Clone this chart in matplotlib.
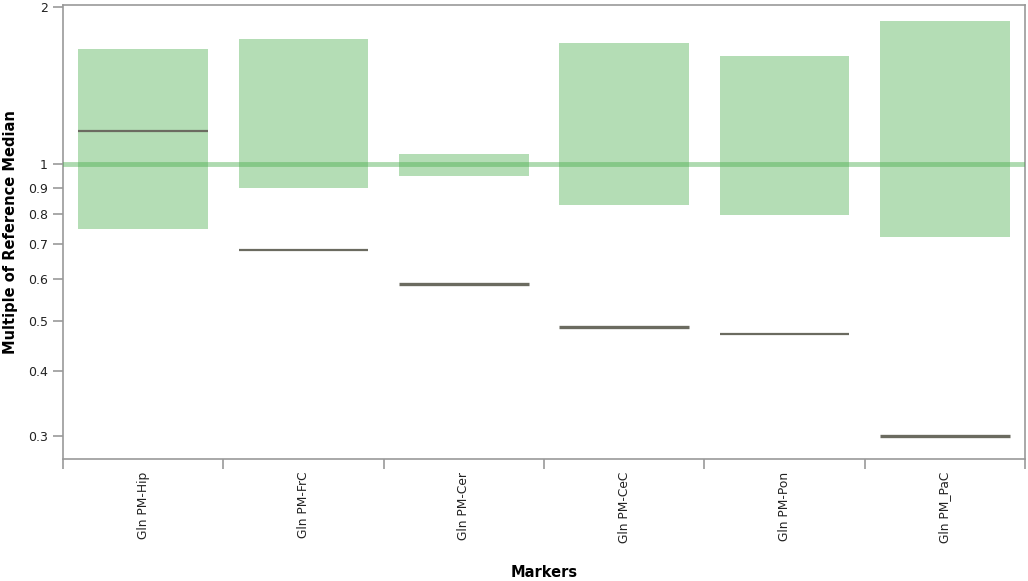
import matplotlib
matplotlib.use("Agg")
import matplotlib.pyplot as plt
from matplotlib.ticker import FixedLocator, NullLocator

markers = ["Gln PM-Hip", "Gln PM-FrC", "Gln PM-Cer", "Gln PM-CeC", "Gln PM-Pon", "Gln PM_PaC"]
range_low = [0.75, 0.90, 0.947, 0.835, 0.797, 0.723]
range_high = [1.66, 1.74, 1.043, 1.71, 1.61, 1.88]
values = [1.155, 0.684, 0.588, 0.486, 0.471, 0.30]
line_widths = [1.6, 1.6, 2.4, 2.4, 1.6, 2.4]
y_ticks = [0.3, 0.4, 0.5, 0.6, 0.7, 0.8, 0.9, 1, 2]
y_tick_labels = ["0.3", "0.4", "0.5", "0.6", "0.7", "0.8", "0.9", "1", "2"]

plt.rcParams['font.family'] = ['DejaVu Sans']

fig = plt.figure(figsize=(10.28, 5.81), dpi=100)
ax = fig.add_axes([63/1028, 1 - 459/581, 962/1028, 454/581])

xs = list(range(len(markers)))
bar_w = 0.81
ax.bar(xs, [h - l for h, l in zip(range_high, range_low)], bottom=range_low,
       width=bar_w, color="#4caf50", alpha=0.42, linewidth=0, zorder=2)

ax.axhline(1.0, color="#4caf50", alpha=0.45, linewidth=3.5, zorder=3)

for x, v, lw in zip(xs, values, line_widths):
    ax.hlines(v, x - bar_w / 2, x + bar_w / 2, color="#6b6b60", linewidth=lw, zorder=4)

ax.set_yscale("log")
ax.set_ylim(0.2709, 2.02)
ax.set_xlim(-0.5, len(markers) - 0.5)

ax.yaxis.set_major_locator(FixedLocator(y_ticks))
ax.yaxis.set_minor_locator(NullLocator())
ax.set_yticklabels(y_tick_labels)

ax.set_xticks(xs)
ax.set_xticklabels(markers, rotation=90)
ax.set_xticks([i - 0.5 for i in range(len(markers) + 1)], minor=True)

ax.tick_params(axis="x", which="major", length=0, pad=9, labelsize=8.8, colors="#222222")
ax.tick_params(axis="x", which="minor", length=7, width=1.2, color="#999999")
ax.tick_params(axis="y", which="major", length=7.2, width=1.2, color="#999999",
               labelsize=9, pad=3.6, labelcolor="#222222")

for s in ax.spines.values():
    s.set_color("#999999")
    s.set_linewidth(1.2)

ax.set_ylabel("Multiple of Reference Median", fontsize=10.5, fontweight="bold", labelpad=7)
ax.set_xlabel("Markers", fontsize=10.5, fontweight="bold", labelpad=16)

fig.savefig("out.png", dpi=100)
